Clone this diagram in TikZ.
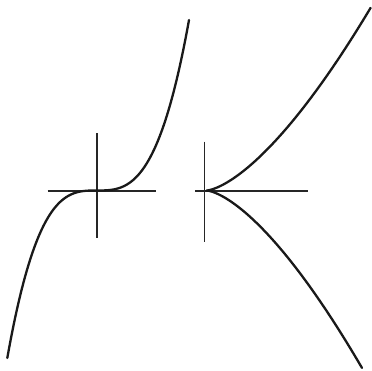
\documentclass[tikz,border=0pt]{standalone}
\begin{document}
\begin{tikzpicture}[x=1pt,y=-1pt,
  axis/.style={line width=1.6pt,color=black!85},
  curve/.style={line width=2.3pt,color=black!90,line cap=round,line join=round}]
\useasboundingbox (0,0) rectangle (372,370);
% left: cubic
\coordinate (o1) at (96.7,190.5);
\draw[axis] (47.7,190.7) -- (156,190.7);
\draw[axis] (96.7,133) -- (96.7,238);
\draw[curve] plot[domain=-89.4:0,samples=80] ({96.7+\x},{190.5-0.2344*(\x/10)^3})
  -- plot[domain=0:92.3,samples=80] ({96.7+\x},{190.5-0.2168*(\x/10)^3});
% right: cusp
\coordinate (o2) at (206.5,190.5);
\draw[axis] (204.3,141.7) -- (204.3,241.7);
\draw[axis] (195,191) -- (307.7,191);
\draw[curve] plot[domain=12.81:0,samples=80] ({206.5+\x*\x},{190.5-0.0869*\x*\x*\x})
  -- plot[domain=0:12.47,samples=80] ({206.5+\x*\x},{190.5+0.0915*\x*\x*\x});
\end{tikzpicture}
\end{document}
